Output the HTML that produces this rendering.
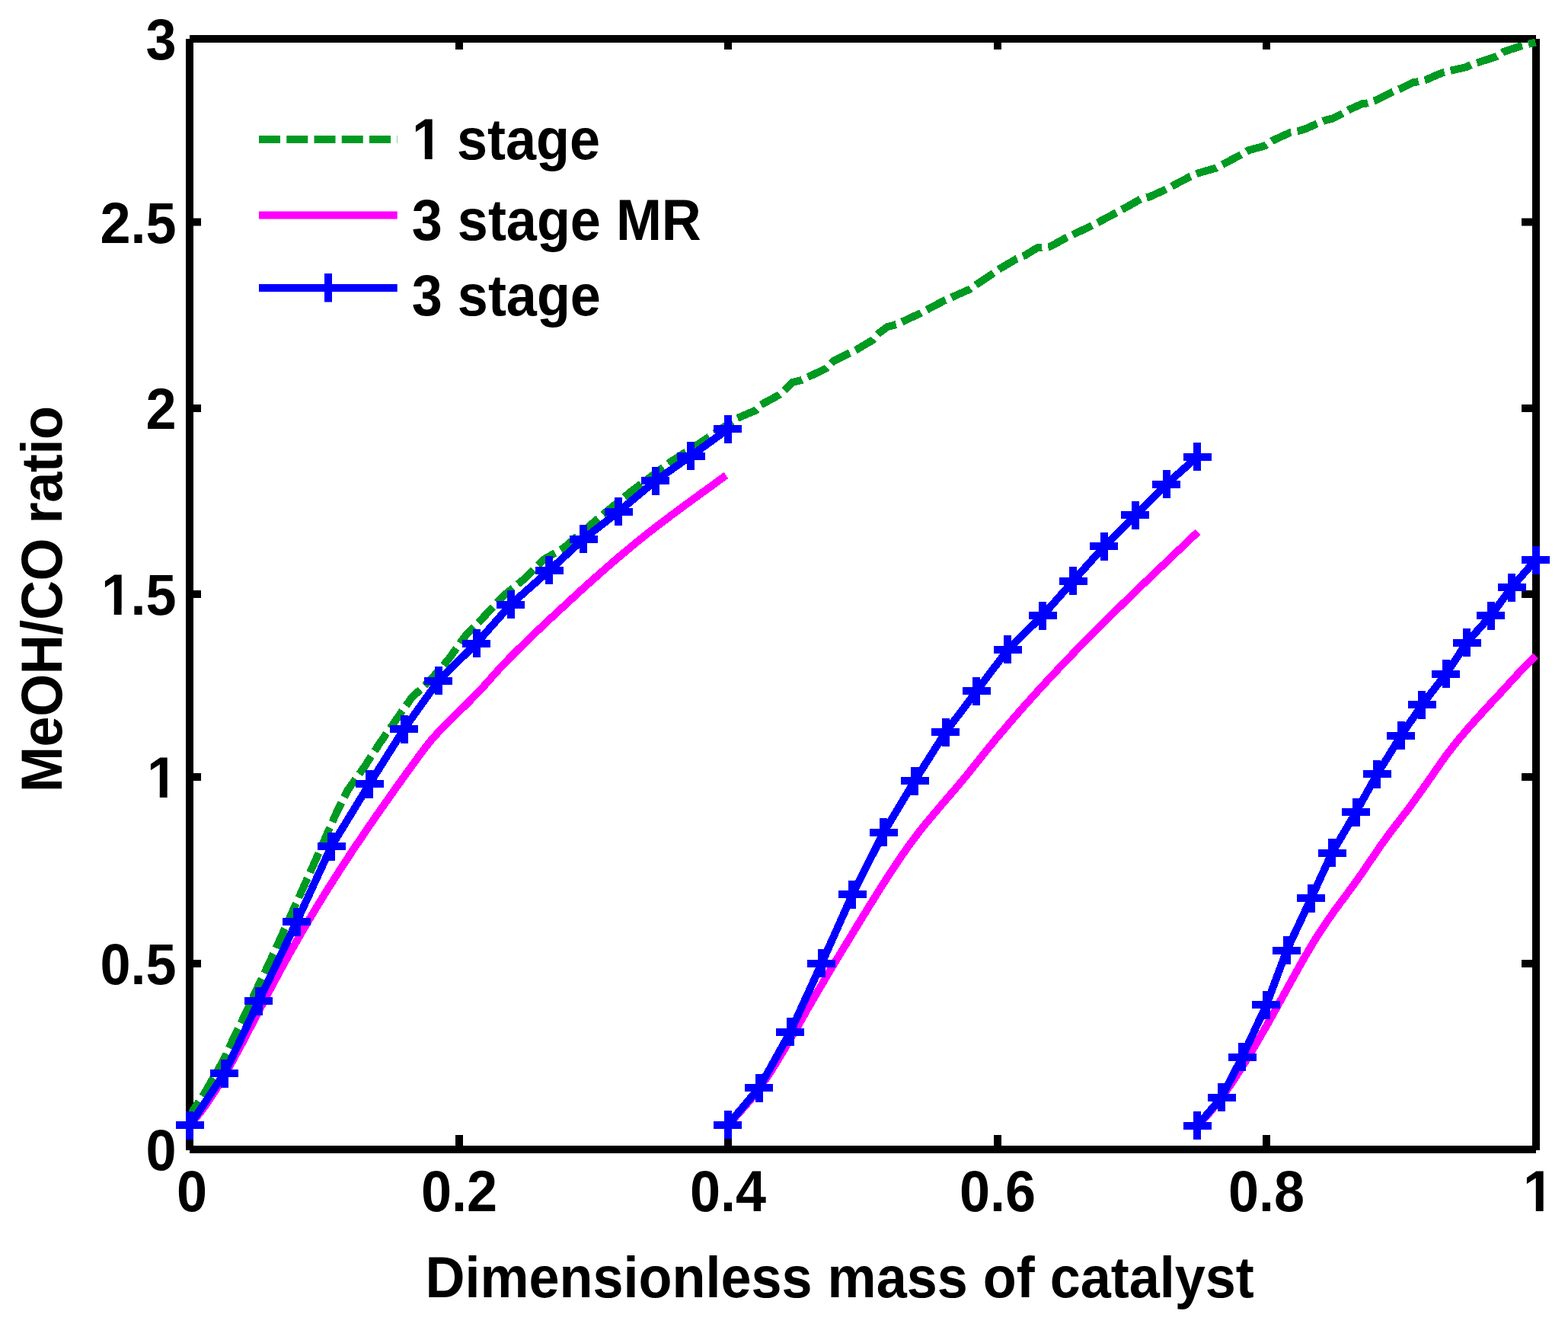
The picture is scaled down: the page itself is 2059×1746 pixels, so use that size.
<!DOCTYPE html><html><head><meta charset="utf-8"><title>MeOH/CO ratio vs dimensionless mass of catalyst</title>
<style>html,body{margin:0;padding:0;background:#fff;}svg{display:block;}</style></head><body>
<svg xmlns="http://www.w3.org/2000/svg" width="2059" height="1746" viewBox="0 0 2059 1746">
<rect width="2059" height="1746" fill="#fff"/>
<g fill="#000">
<rect x="244" y="51" width="10" height="1459"/>
<rect x="2012" y="51" width="10" height="1459"/>
<rect x="249" y="46" width="1768" height="10"/>
<rect x="249" y="1504" width="1768" height="10"/>
<rect x="254" y="1260" width="10" height="10"/>
<rect x="1998" y="1260" width="14" height="10"/>
<rect x="254" y="1015" width="10" height="10"/>
<rect x="1998" y="1015" width="14" height="10"/>
<rect x="254" y="775" width="10" height="10"/>
<rect x="1998" y="775" width="14" height="10"/>
<rect x="254" y="531" width="10" height="10"/>
<rect x="1998" y="531" width="14" height="10"/>
<rect x="254" y="286.5" width="10" height="10"/>
<rect x="1998" y="286.5" width="14" height="10"/>
<rect x="598" y="1490" width="10" height="14"/>
<rect x="598" y="56" width="10" height="9"/>
<rect x="951" y="1490" width="10" height="14"/>
<rect x="951" y="56" width="10" height="9"/>
<rect x="1305" y="1490" width="10" height="14"/>
<rect x="1305" y="56" width="10" height="9"/>
<rect x="1658" y="1490" width="10" height="14"/>
<rect x="1658" y="56" width="10" height="9"/>
</g>
<g fill="none" stroke-width="10" stroke-linecap="butt" stroke-linejoin="round" shape-rendering="crispEdges">
<polyline stroke="#009A22" stroke-dasharray="28 8.25" stroke-dashoffset="3" points="249.5,1468.0 253.7,1457.4 267.5,1436.8 292.5,1393.6 306.0,1364.5 321.5,1332.5 338.6,1295.5 352.5,1266.5 368.0,1232.5 384.3,1196.2 397.5,1167.0 414.1,1129.8 441.2,1068.3 456.8,1037.0 479.1,1005.7 498.5,975.9 519.3,946.2 540.2,916.4 565.0,893.0 589.0,865.5 610.9,835.0 638.0,807.0 662.5,781.0 688.1,760.4 713.8,734.7 741.0,718.7 774.7,689.8 793.9,673.8 829.2,644.9 880.5,606.4 924.5,578.1 967.2,549.4 992.5,538.7 998.3,531.9 1021.6,519.3 1029.4,513.5 1041.0,501.8 1052.7,498.9 1083.8,484.3 1093.5,474.6 1114.8,463.9 1124.6,459.1 1145.9,446.5 1153.7,437.7 1165.4,429.0 1177.0,426.0 1208.1,411.5 1239.2,395.0 1274.1,379.4 1281.9,373.6 1303.6,359.4 1313.3,352.6 1323.0,346.8 1334.7,340.0 1346.3,335.1 1361.9,325.4 1367.7,325.4 1379.4,323.5 1400.7,311.8 1433.8,296.3 1464.8,279.8 1484.3,269.1 1497.9,261.3 1509.5,258.4 1530.9,248.7 1562.0,232.2 1573.6,227.3 1596.9,220.5 1628.0,204.0 1639.7,197.2 1661.1,191.4 1670.0,185.1 1694.5,173.8 1705.0,172.0 1713.7,169.4 1729.5,162.4 1740.0,158.0 1750.4,155.4 1762.7,149.3 1771.4,144.0 1788.9,136.2 1795.9,135.3 1806.4,131.8 1827.4,121.3 1837.9,116.9 1855.3,108.2 1862.3,107.3 1872.8,104.7 1888.6,97.7 1895.6,95.1 1906.1,92.5 1925.3,88.1 1932.3,84.6 1941.0,82.0 1965.5,74.1 1974.3,68.0 1984.7,64.5 1998.7,60.1 2016.5,55.5"/>
<polyline stroke="#FF00FF" points="249.5,1477.0 254.5,1470.7 259.6,1464.6 264.6,1458.2 269.6,1451.4 274.6,1444.3 279.7,1436.7 284.7,1428.8 289.7,1420.5 294.8,1411.8 299.8,1403.0 304.8,1393.9 309.8,1384.7 314.9,1375.3 319.9,1365.8 324.9,1356.2 330.0,1346.5 335.0,1336.8 340.0,1327.1 345.0,1317.4 350.1,1307.7 355.1,1298.2 360.1,1288.7 365.2,1279.3 370.2,1270.0 375.2,1260.9 380.2,1251.8 385.3,1242.9 390.3,1234.1 395.3,1225.4 400.4,1216.7 405.4,1208.2 410.4,1199.8 415.4,1191.5 420.5,1183.2 425.5,1175.1 430.5,1167.0 435.6,1159.0 440.6,1151.1 445.6,1143.3 450.6,1135.5 455.7,1127.8 460.7,1120.2 465.7,1112.6 470.8,1105.1 475.8,1097.7 480.8,1090.3 485.8,1083.0 490.9,1075.7 495.9,1068.4 500.9,1061.2 506.0,1054.1 511.0,1047.0 516.0,1039.9 521.0,1032.8 526.1,1025.8 531.1,1018.8 536.1,1011.8 541.2,1004.9 546.2,998.0 551.2,991.1 556.2,984.4 561.3,977.9 566.3,971.7 571.3,965.9 576.4,960.4 581.4,955.2 586.4,950.1 591.4,945.2 596.5,940.3 601.5,935.3 606.5,930.4 611.6,925.4 616.6,920.4 621.6,915.3 626.6,910.0 631.7,904.7 636.7,899.3 641.7,893.7 646.8,888.0 651.8,882.4 656.8,876.9 661.8,871.5 666.9,866.2 671.9,861.1 676.9,856.1 682.0,851.1 687.0,846.2 692.0,841.3 697.0,836.4 702.1,831.6 707.1,826.9 712.1,822.1 717.2,817.4 722.2,812.7 727.2,808.0 732.2,803.3 737.3,798.6 742.3,794.0 747.3,789.3 752.4,784.7 757.4,780.1 762.4,775.5 767.4,771.0 772.5,766.4 777.5,761.9 782.5,757.5 787.6,753.0 792.6,748.6 797.6,744.2 802.6,739.9 807.7,735.5 812.7,731.2 817.7,727.0 822.8,722.8 827.8,718.6 832.8,714.5 837.8,710.4 842.9,706.3 847.9,702.3 852.9,698.3 858.0,694.4 863.0,690.5 868.0,686.7 873.0,682.9 878.1,679.1 883.1,675.3 888.1,671.6 893.2,667.9 898.2,664.2 903.2,660.5 908.2,656.9 913.3,653.2 918.3,649.6 923.3,645.9 928.4,642.3 933.4,638.6 938.4,635.0 943.4,631.3 948.5,627.6 953.5,624.1"/>
<polyline stroke="#FF00FF" points="956.0,1477.0 961.0,1471.6 966.0,1466.0 971.0,1460.4 976.1,1454.7 981.1,1448.8 986.1,1442.8 991.1,1436.4 996.1,1429.9 1001.1,1423.0 1006.1,1415.7 1011.2,1408.2 1016.2,1400.3 1021.2,1392.2 1026.2,1383.9 1031.2,1375.4 1036.2,1366.8 1041.2,1358.1 1046.3,1349.4 1051.3,1340.6 1056.3,1331.8 1061.3,1323.0 1066.3,1314.4 1071.3,1305.8 1076.4,1297.2 1081.4,1288.7 1086.4,1280.2 1091.4,1271.8 1096.4,1263.4 1101.4,1255.1 1106.4,1246.8 1111.5,1238.5 1116.5,1230.3 1121.5,1222.1 1126.5,1213.9 1131.5,1205.7 1136.5,1197.6 1141.5,1189.4 1146.6,1181.4 1151.6,1173.3 1156.6,1165.3 1161.6,1157.5 1166.6,1149.7 1171.6,1142.0 1176.6,1134.4 1181.7,1127.0 1186.7,1119.7 1191.7,1112.6 1196.7,1105.7 1201.7,1099.0 1206.7,1092.5 1211.7,1086.1 1216.8,1079.9 1221.8,1073.8 1226.8,1067.9 1231.8,1062.0 1236.8,1056.1 1241.8,1050.3 1246.8,1044.5 1251.9,1038.6 1256.9,1032.8 1261.9,1026.8 1266.9,1020.8 1271.9,1014.6 1276.9,1008.4 1282.0,1002.1 1287.0,995.8 1292.0,989.5 1297.0,983.3 1302.0,977.2 1307.0,971.1 1312.0,965.1 1317.1,959.2 1322.1,953.3 1327.1,947.4 1332.1,941.6 1337.1,935.9 1342.1,930.2 1347.1,924.5 1352.2,918.9 1357.2,913.3 1362.2,907.8 1367.2,902.3 1372.2,896.9 1377.2,891.5 1382.2,886.1 1387.3,880.8 1392.3,875.5 1397.3,870.2 1402.3,865.0 1407.3,859.8 1412.3,854.6 1417.3,849.5 1422.4,844.4 1427.4,839.3 1432.4,834.2 1437.4,829.2 1442.4,824.2 1447.4,819.2 1452.4,814.2 1457.5,809.2 1462.5,804.3 1467.5,799.4 1472.5,794.5 1477.5,789.6 1482.5,784.8 1487.6,779.9 1492.6,775.1 1497.6,770.2 1502.6,765.4 1507.6,760.6 1512.6,755.8 1517.6,751.0 1522.7,746.2 1527.7,741.4 1532.7,736.7 1537.7,731.9 1542.7,727.1 1547.7,722.3 1552.7,717.6 1557.8,712.8 1562.8,708.0 1567.8,703.2 1572.8,698.5"/>
<polyline stroke="#FF00FF" points="1572.0,1478.0 1577.0,1473.0 1582.1,1467.6 1587.2,1462.0 1592.2,1456.0 1597.2,1449.7 1602.3,1443.1 1607.3,1436.2 1612.4,1429.1 1617.5,1421.7 1622.5,1414.1 1627.5,1406.3 1632.6,1398.3 1637.7,1390.1 1642.7,1381.8 1647.8,1373.3 1652.8,1364.7 1657.8,1355.9 1662.9,1347.1 1668.0,1338.1 1673.0,1329.0 1678.0,1319.9 1683.1,1310.7 1688.2,1301.5 1693.2,1292.3 1698.2,1283.2 1703.3,1274.1 1708.3,1265.1 1713.4,1256.3 1718.5,1247.6 1723.5,1239.1 1728.5,1230.9 1733.6,1222.9 1738.7,1215.3 1743.7,1207.9 1748.8,1200.7 1753.8,1193.7 1758.8,1186.8 1763.9,1180.0 1769.0,1173.2 1774.0,1166.4 1779.0,1159.5 1784.1,1152.4 1789.2,1145.2 1794.2,1137.9 1799.2,1130.4 1804.3,1122.9 1809.3,1115.4 1814.4,1108.2 1819.5,1101.2 1824.5,1094.4 1829.5,1087.7 1834.6,1081.1 1839.7,1074.5 1844.7,1067.9 1849.8,1061.2 1854.8,1054.4 1859.8,1047.4 1864.9,1040.3 1870.0,1033.2 1875.0,1026.0 1880.1,1018.7 1885.1,1011.4 1890.2,1004.1 1895.2,997.0 1900.2,990.2 1905.3,983.5 1910.3,977.1 1915.4,970.8 1920.5,964.8 1925.5,958.8 1930.6,953.0 1935.6,947.4 1940.7,941.8 1945.7,936.3 1950.8,930.8 1955.8,925.3 1960.9,919.9 1965.9,914.5 1971.0,909.0 1976.0,903.5 1981.1,897.9 1986.1,892.4 1991.2,886.9 1996.2,881.5 2001.2,876.2 2006.3,871.1 2011.4,866.1 2016.4,861.2"/>
<polyline stroke="#0000FF" points="249.2,1477.0 294.7,1409.3 339.8,1314.2 389.5,1210.2 435.2,1111.0 485.1,1029.2 530.6,957.0 575.6,893.9 625.7,844.5 670.5,793.8 721.3,748.9 766.0,707.8 812.1,671.8 860.9,631.0 907.1,598.7 955.8,563.3"/>
<polyline stroke="#0000FF" points="955.9,1476.7 996.9,1428.0 1037.8,1354.7 1078.9,1264.8 1119.4,1174.1 1160.4,1092.8 1201.0,1025.2 1241.6,961.3 1282.3,907.3 1323.3,852.9 1369.1,808.2 1409.4,762.5 1449.9,717.3 1490.8,676.4 1531.7,635.5 1572.1,599.9"/>
<polyline stroke="#0000FF" points="1572.1,1477.8 1604.1,1440.7 1631.2,1387.6 1662.9,1319.4 1689.7,1247.6 1721.8,1179.0 1749.1,1119.6 1780.6,1066.1 1808.3,1016.4 1839.7,965.9 1867.4,925.0 1898.9,884.6 1926.0,843.7 1957.8,808.0 1985.0,771.2 2016.6,735.0"/>
</g>
<g fill="none" stroke="#0000FF" stroke-width="10" stroke-linecap="butt" shape-rendering="crispEdges">
<path d="M230.7 1477.0H267.7M249.2 1458.5V1495.5" />
<path d="M276.2 1409.3H313.2M294.7 1390.8V1427.8" />
<path d="M321.3 1314.2H358.3M339.8 1295.7V1332.7" />
<path d="M371.0 1210.2H408.0M389.5 1191.7V1228.7" />
<path d="M416.7 1111.0H453.7M435.2 1092.5V1129.5" />
<path d="M466.6 1029.2H503.6M485.1 1010.7V1047.7" />
<path d="M512.1 957.0H549.1M530.6 938.5V975.5" />
<path d="M557.1 893.9H594.1M575.6 875.4V912.4" />
<path d="M607.2 844.5H644.2M625.7 826.0V863.0" />
<path d="M652.0 793.8H689.0M670.5 775.3V812.3" />
<path d="M702.8 748.9H739.8M721.3 730.4V767.4" />
<path d="M747.5 707.8H784.5M766.0 689.3V726.3" />
<path d="M793.6 671.8H830.6M812.1 653.3V690.3" />
<path d="M842.4 631.0H879.4M860.9 612.5V649.5" />
<path d="M888.6 598.7H925.6M907.1 580.2V617.2" />
<path d="M937.3 563.3H974.3M955.8 544.8V581.8" />
<path d="M937.4 1476.7H974.4M955.9 1458.2V1495.2" />
<path d="M978.4 1428.0H1015.4M996.9 1409.5V1446.5" />
<path d="M1019.3 1354.7H1056.3M1037.8 1336.2V1373.2" />
<path d="M1060.4 1264.8H1097.4M1078.9 1246.3V1283.3" />
<path d="M1100.9 1174.1H1137.9M1119.4 1155.6V1192.6" />
<path d="M1141.9 1092.8H1178.9M1160.4 1074.3V1111.3" />
<path d="M1182.5 1025.2H1219.5M1201.0 1006.7V1043.7" />
<path d="M1223.1 961.3H1260.1M1241.6 942.8V979.8" />
<path d="M1263.8 907.3H1300.8M1282.3 888.8V925.8" />
<path d="M1304.8 852.9H1341.8M1323.3 834.4V871.4" />
<path d="M1350.6 808.2H1387.6M1369.1 789.7V826.7" />
<path d="M1390.9 762.5H1427.9M1409.4 744.0V781.0" />
<path d="M1431.4 717.3H1468.4M1449.9 698.8V735.8" />
<path d="M1472.3 676.4H1509.3M1490.8 657.9V694.9" />
<path d="M1513.2 635.5H1550.2M1531.7 617.0V654.0" />
<path d="M1553.6 599.9H1590.6M1572.1 581.4V618.4" />
<path d="M1553.6 1477.8H1590.6M1572.1 1459.3V1496.3" />
<path d="M1585.6 1440.7H1622.6M1604.1 1422.2V1459.2" />
<path d="M1612.7 1387.6H1649.7M1631.2 1369.1V1406.1" />
<path d="M1644.4 1319.4H1681.4M1662.9 1300.9V1337.9" />
<path d="M1671.2 1247.6H1708.2M1689.7 1229.1V1266.1" />
<path d="M1703.3 1179.0H1740.3M1721.8 1160.5V1197.5" />
<path d="M1730.6 1119.6H1767.6M1749.1 1101.1V1138.1" />
<path d="M1762.1 1066.1H1799.1M1780.6 1047.6V1084.6" />
<path d="M1789.8 1016.4H1826.8M1808.3 997.9V1034.9" />
<path d="M1821.2 965.9H1858.2M1839.7 947.4V984.4" />
<path d="M1848.9 925.0H1885.9M1867.4 906.5V943.5" />
<path d="M1880.4 884.6H1917.4M1898.9 866.1V903.1" />
<path d="M1907.5 843.7H1944.5M1926.0 825.2V862.2" />
<path d="M1939.3 808.0H1976.3M1957.8 789.5V826.5" />
<path d="M1966.5 771.2H2003.5M1985.0 752.7V789.7" />
<path d="M1998.1 735.0H2035.1M2016.6 716.5V753.5" />
</g>
<g font-family="'Liberation Sans', Arial, Helvetica, sans-serif" font-weight="bold" font-size="72" fill="#000">
<text transform="translate(231.5 1536.0) scale(1 1.05)" text-anchor="end">0</text>
<text transform="translate(231.5 1292.0) scale(1 1.05)" text-anchor="end">0.5</text>
<text transform="translate(191.46 1047.0) scale(1 1.05)"><tspan dx="1.5">1</tspan></text>
<text transform="translate(131.41 807.0) scale(1 1.05)"><tspan dx="1.5">1</tspan><tspan dx="-1.5">.5</tspan></text>
<text transform="translate(231.5 563.0) scale(1 1.05)" text-anchor="end">2</text>
<text transform="translate(231.5 318.5) scale(1 1.05)" text-anchor="end">2.5</text>
<text transform="translate(231.5 78.0) scale(1 1.05)" text-anchor="end">3</text>
<text transform="translate(252 1590) scale(1 1.05)" text-anchor="middle">0</text>
<text transform="translate(603 1590) scale(1 1.05)" text-anchor="middle">0.2</text>
<text transform="translate(956 1590) scale(1 1.05)" text-anchor="middle">0.4</text>
<text transform="translate(1310 1590) scale(1 1.05)" text-anchor="middle">0.6</text>
<text transform="translate(1663 1590) scale(1 1.05)" text-anchor="middle">0.8</text>
<text transform="translate(1998.48 1590) scale(1 1.05)"><tspan dx="1.5">1</tspan></text>
<text transform="translate(558.5 1703) scale(1 1.05)">Dimensionless mass of catalyst</text>
<text transform="translate(81 1040) rotate(-90) scale(1 1.05)" letter-spacing="-0.42">MeOH/CO ratio</text>
<text transform="translate(540.00 209) scale(1 1.05)"><tspan dx="1.0">1</tspan><tspan dx="-1.0"> stage</tspan></text>
<text transform="translate(540.8 314.5) scale(1 1.05)">3 stage MR</text>
<text transform="translate(540.8 413.5) scale(1 1.05)">3 stage</text>
</g>
<g fill="#fff">
<rect x="196.47" y="1038.88" width="13.29" height="9.32"/>
<rect x="219.64" y="1038.88" width="12.34" height="9.32"/>
<rect x="136.43" y="798.88" width="13.29" height="9.32"/>
<rect x="159.59" y="798.88" width="12.34" height="9.32"/>
<rect x="2003.49" y="1581.88" width="13.29" height="9.32"/>
<rect x="2026.66" y="1581.88" width="12.34" height="9.32"/>
<rect x="544.52" y="200.88" width="13.29" height="9.32"/>
<rect x="567.68" y="200.88" width="12.34" height="9.32"/>
</g>
<g fill="none" stroke-width="10" stroke-linecap="butt">
<path stroke="#009A22" stroke-dasharray="28 8.25" d="M340 183H521.7"/>
<path stroke="#FF00FF" d="M340 282.4H521.7"/>
<path stroke="#0000FF" d="M340 377.9H521.7M431 359V396.5"/>
</g>
</svg></body></html>
